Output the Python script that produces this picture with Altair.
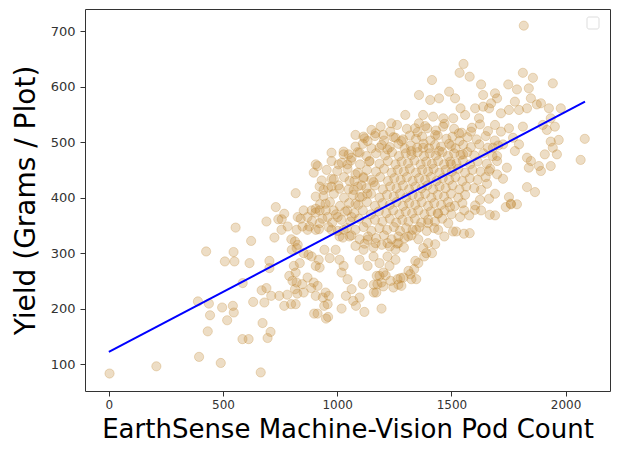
import altair as alt
import pandas as pd

# ---- data (pod count, yield g/plot) ----
sparse_left = [
    (3, 83), (208, 96), (395, 113), (490, 102), (665, 85), (433, 159), (518, 179),
    (390, 213), (438, 209), (443, 188), (496, 202), (543, 205), (547, 193),
    (585, 145), (612, 145), (632, 212), (673, 174), (708, 158), (695, 147),
    (426, 303), (546, 302), (508, 285), (550, 285), (616, 282), (555, 346),
    (623, 322), (586, 246), (681, 211), (669, 233), (690, 237), (703, 286),
    (703, 273), (690, 357), (725, 328),
]
band_700_1000 = [
    (731, 383), (742, 361), (768, 371), (757, 361), (783, 348), (818, 408),
    (827, 365), (840, 362), (853, 377), (822, 342), (848, 348), (870, 342),
    (815, 321), (827, 315), (822, 309), (801, 306), (853, 300), (874, 297),
    (836, 282), (810, 277), (818, 265), (804, 250), (822, 247), (815, 235),
    (798, 208), (818, 208), (853, 229), (870, 256), (897, 247), (914, 241),
    (906, 223), (914, 191), (958, 208), (937, 220), (960, 185), (963, 223),
    (949, 229), (923, 274), (906, 277), (888, 294), (919, 288), (944, 306),
    (967, 291), (993, 306), (746, 223), (768, 205), (781, 225), (825, 227),
    (847, 244), (886, 237), (943, 205), (899, 191), (951, 182), (711, 223),
    (790, 259), (799, 325), (756, 342), (906, 460), (914, 457), (897, 445),
    (975, 481), (1028, 483), (975, 466), (1006, 460), (1045, 460), (954, 450),
    (932, 431), (975, 434), (940, 414), (923, 420), (975, 420), (1010, 416),
    (906, 402), (949, 389), (906, 380), (923, 377), (888, 377), (870, 365),
    (878, 348), (906, 342), (923, 354), (958, 365), (984, 377), (1002, 365),
    (975, 342), (1028, 342), (1010, 330), (1054, 330), (1063, 365), (1045, 377),
    (1080, 389), (1098, 401), (1072, 414), (1054, 430), (1080, 442), (1115, 437),
    (1159, 428), (1106, 422), (1132, 407),
]
lower_tail = [
    (1010, 288), (1028, 277), (1019, 265), (1045, 253), (1063, 235), (1098, 220),
    (1119, 194), (1070, 214), (1194, 200), (1019, 200), (1176, 244), (1171, 229),
    (1202, 240), (1038, 223), (1082, 205), (1112, 244), (1160, 243), (1160, 229),
    (1173, 259), (1212, 260), (1234, 250), (1268, 243), (1277, 255), (1312, 268),
    (1325, 253), (1342, 286), (1377, 309), (1390, 300), (1429, 316), (1507, 339),
    (1555, 335), (1668, 369), (1738, 383), (1760, 389), (1625, 396), (1603, 378),
    (1580, 336), (1521, 339), (1469, 330), (1415, 300), (1381, 294), (1355, 282),
    (1337, 271), (1320, 262), (1346, 253), (1290, 256), (1264, 253), (1246, 238),
    (1281, 241), (1255, 288), (1229, 277), (1202, 265), (1185, 282), (1185, 259),
    (1194, 247), (1220, 294), (1159, 294), (1133, 277), (1115, 306), (1098, 288),
    (1398, 318), (1442, 342), (1486, 354), (1538, 365), (1556, 377), (1494, 383),
    (1442, 371), (1398, 354), (1346, 342), (1311, 330), (1268, 318), (1255, 306),
    (1220, 318), (1168, 318), (1133, 324),
]
upper_band = [
    (1553, 641), (1536, 625), (1580, 618), (1415, 612), (1358, 585), (1407, 576),
    (1446, 579), (1490, 591), (1516, 579), (1540, 561), (1560, 549), (1508, 543),
    (1464, 543), (1420, 546), (1376, 549), (1358, 534), (1298, 549), (1341, 525),
    (1394, 525), (1429, 513), (1464, 528), (1533, 516), (1586, 519), (1621, 543),
    (1604, 561), (1639, 564), (1237, 534), (1168, 516), (1115, 510), (1080, 513),
    (1133, 502), (1202, 513), (1255, 508), (1281, 502), (1185, 490), (1098, 481),
    (1063, 472), (1028, 478), (1142, 466), (1220, 487), (1324, 484), (1376, 490),
    (1446, 484), (1499, 493), (1551, 478), (1499, 460),
]
right_side = [
    (1817, 710), (1813, 625), (1749, 604), (1787, 595), (1857, 616), (1839, 597),
    (1944, 606), (1778, 573), (1796, 558), (1831, 561), (1848, 579), (1874, 568),
    (1892, 570), (1927, 561), (1979, 561), (1935, 543), (1900, 531), (1953, 528),
    (1918, 522), (1813, 528), (1752, 525), (1770, 508), (1796, 496), (1778, 484),
    (1831, 472), (1848, 466), (1839, 454), (1883, 457), (1892, 448), (1935, 457),
    (1909, 478), (1962, 478), (1944, 490), (1970, 504), (1935, 501), (2084, 506),
    (2066, 468), (1866, 410), (1831, 419), (1752, 401), (1761, 388), (1787, 388),
    (1700, 475), (1726, 496), (1691, 531), (1717, 552), (1700, 579), (1691, 588),
    (1674, 570), (1639, 585), (1630, 604), (1665, 561), (1752, 558), (1717, 519),
    (1682, 490), (1665, 448), (1700, 442), (1726, 434), (1743, 454), (1691, 407),
    (1665, 398), (1691, 368), (1656, 425), (1630, 414), (1604, 386), (1578, 368),
    (1630, 377),
]
core = [
    (1150, 522), (1190, 528), (1232, 519), (1262, 531), (1305, 524), (1352, 518),
    (1385, 529), (1432, 521), (1470, 533), (1512, 524), (1545, 517), (1590, 526),
    (1625, 532), (1660, 520),
    (1120, 507), (1165, 511), (1205, 503), (1246, 509), (1288, 505), (1318, 512),
    (1345, 506), (1372, 510), (1408, 503), (1440, 512), (1478, 506), (1505, 510),
    (1535, 502), (1570, 509), (1610, 505), (1650, 511), (1690, 503),
    (1080, 492), (1112, 497), (1150, 489), (1195, 495), (1230, 491), (1268, 497),
    (1295, 489), (1322, 494), (1350, 490), (1378, 497), (1402, 489), (1428, 495),
    (1455, 492), (1490, 497), (1518, 489), (1552, 495), (1585, 491), (1622, 496),
    (1660, 490), (1705, 494),
    (1050, 478), (1090, 482), (1128, 475), (1170, 480), (1210, 476), (1240, 482),
    (1270, 475), (1300, 480), (1325, 477), (1352, 482), (1380, 475), (1405, 480),
    (1432, 476), (1460, 482), (1485, 475), (1512, 480), (1540, 477), (1570, 482),
    (1600, 476), (1640, 480), (1680, 475),
    (1020, 463), (1060, 467), (1100, 460), (1140, 465), (1185, 461), (1222, 466),
    (1255, 460), (1282, 465), (1310, 462), (1338, 467), (1365, 460), (1390, 465),
    (1415, 461), (1442, 466), (1468, 460), (1495, 465), (1522, 462), (1550, 467),
    (1582, 460), (1615, 465), (1655, 461), (1700, 466),
    (1000, 448), (1045, 452), (1090, 445), (1130, 450), (1170, 447), (1205, 452),
    (1238, 445), (1265, 450), (1292, 447), (1318, 452), (1345, 445), (1372, 450),
    (1398, 447), (1422, 452), (1448, 445), (1475, 450), (1502, 447), (1530, 452),
    (1560, 445), (1592, 450), (1628, 447), (1670, 452),
    (985, 433), (1030, 437), (1075, 430), (1115, 435), (1150, 432), (1188, 437),
    (1222, 430), (1250, 435), (1278, 432), (1305, 437), (1330, 430), (1358, 435),
    (1385, 432), (1410, 437), (1435, 430), (1462, 435), (1490, 432), (1518, 437),
    (1548, 430), (1580, 435), (1615, 432), (1650, 437),
    (960, 418), (1005, 422), (1050, 415), (1090, 420), (1128, 417), (1165, 422),
    (1200, 415), (1232, 420), (1260, 417), (1288, 422), (1315, 415), (1342, 420),
    (1370, 417), (1395, 422), (1420, 415), (1448, 420), (1475, 417), (1505, 422),
    (1535, 415), (1565, 420), (1600, 417),
    (940, 403), (985, 407), (1030, 400), (1070, 405), (1110, 402), (1148, 407),
    (1185, 400), (1218, 405), (1248, 402), (1275, 407), (1302, 400), (1330, 405),
    (1358, 402), (1385, 407), (1412, 400), (1440, 405), (1468, 402), (1498, 407),
    (1530, 400), (1560, 405),
    (925, 388), (968, 392), (1012, 385), (1052, 390), (1092, 387), (1130, 392),
    (1165, 385), (1198, 390), (1230, 387), (1260, 392), (1288, 385), (1315, 390),
    (1342, 387), (1370, 392), (1398, 385), (1425, 390), (1455, 387), (1485, 392),
    (1515, 385), (1548, 390),
    (905, 373), (950, 377), (995, 370), (1035, 375), (1075, 372), (1112, 377),
    (1148, 370), (1182, 375), (1215, 372), (1245, 377), (1272, 370), (1300, 375),
    (1328, 372), (1355, 377), (1382, 370), (1410, 375), (1440, 372), (1470, 377),
    (1500, 370),
    (890, 358), (935, 362), (978, 355), (1018, 360), (1058, 357), (1095, 362),
    (1130, 355), (1165, 360), (1198, 357), (1230, 362), (1258, 355), (1285, 360),
    (1312, 357), (1340, 362), (1368, 355), (1398, 360), (1428, 357), (1460, 362),
    (920, 343), (962, 347), (1002, 340), (1042, 345), (1080, 342), (1115, 347),
    (1150, 340), (1185, 345), (1218, 342), (1248, 347), (1275, 340), (1302, 345),
    (1330, 342), (1360, 347), (1392, 340), (1425, 345),
    (1025, 328), (1062, 332), (1098, 325), (1135, 330), (1170, 327), (1205, 332),
    (1238, 325), (1268, 330), (1295, 327), (1325, 332), (1355, 325),
    (1080, 313), (1120, 317), (1158, 310), (1195, 315), (1230, 312), (1262, 317),
    (1292, 310),
]

# fitted regression line end points
fit_x = [0, 2085]
fit_y = [122, 573]

x_ticks = [0, 500, 1000, 1500, 2000]
y_ticks = [100, 200, 300, 400, 500, 600, 700]

pts = sparse_left + band_700_1000 + lower_tail + upper_band + right_side + core
df = pd.DataFrame(pts, columns=["pods", "yield"])
line_df = pd.DataFrame({"pods": fit_x, "yield": fit_y})

xs = alt.Scale(domain=[-104.5, 2194.5], nice=False, zero=False)
ys = alt.Scale(domain=[51.5, 740], nice=False, zero=False)

x_axis = alt.Axis(values=x_ticks, format="d", title="EarthSense Machine-Vision Pod Count",
                  titleFontSize=26, titlePadding=6, labelFontSize=12,
                  tickSize=5, labelPadding=3)
y_axis = alt.Axis(values=y_ticks, format="d", title="Yield (Grams / Plot)",
                  titleFontSize=28, titlePadding=10, labelFontSize=13, labelPadding=5)

points = alt.Chart(df).mark_circle(
    size=85, color="#c08630", fillOpacity=0.28, stroke="#c08630",
    strokeOpacity=0.28, strokeWidth=1,
).encode(
    x=alt.X("pods:Q", scale=xs, axis=x_axis),
    y=alt.Y("yield:Q", scale=ys, axis=y_axis),
)

fit = alt.Chart(line_df).mark_line(color="#0000ff", strokeWidth=2).encode(
    x=alt.X("pods:Q", scale=xs),
    y=alt.Y("yield:Q", scale=ys),
)

legend_box = alt.Chart(pd.DataFrame({"a": [0]})).mark_rect(
    fill="white", stroke="#dddddd", strokeWidth=1, cornerRadius=2
).encode(x=alt.value(502), x2=alt.value(514), y=alt.value(8), y2=alt.value(20))

chart = (points + fit + legend_box).properties(
    width=525, height=382,
    autosize=alt.AutoSizeParams(type="none"),
    padding={"left": 77, "top": 1, "right": 5, "bottom": 57},
).configure_view(stroke="#333333", strokeWidth=1).configure_axis(
    grid=False, domain=False, tickSize=5, tickColor="#333333",
    labelColor="#333333", labelFont="DejaVu Sans", titleFont="DejaVu Sans",
    titleFontWeight="normal", titleColor="#000000", labelPadding=3,
)

chart.save("out.html", embed_options={"renderer": "svg", "actions": False})
